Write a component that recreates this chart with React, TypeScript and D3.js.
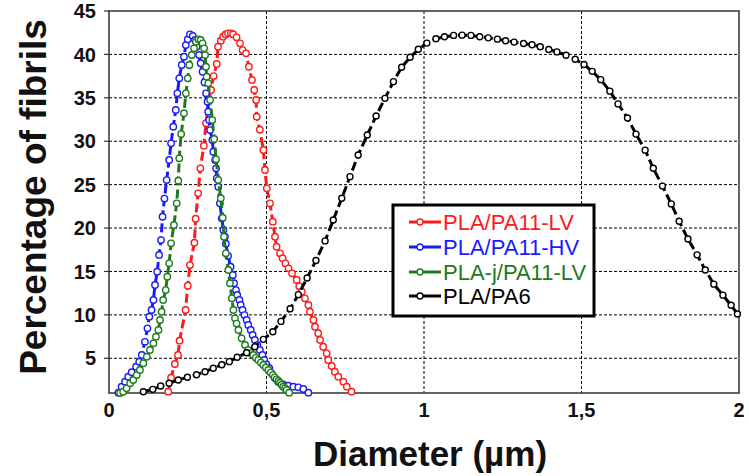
import React from "react";
import * as d3 from "d3";

const seriesNames = ["PLA/PA11-LV", "PLA/PA11-HV", "PLA-j/PA11-LV", "PLA/PA6"];
const seriesColors = ["#ff1a1a", "#1a1aff", "#1e7a1e", "#000000"];

const redData: [number, number][] = [
  [0.188, 1.15], [0.197, 2.76], [0.209, 4.34], [0.219, 5.38], [0.224, 7.03],
  [0.243, 10.56], [0.25, 13.36], [0.257, 15.74], [0.271, 18.31], [0.275, 21.08],
  [0.283, 24.0], [0.29, 26.88], [0.301, 29.49], [0.308, 32.07], [0.317, 34.75],
  [0.324, 35.9], [0.332, 37.51], [0.342, 38.9], [0.346, 40.89], [0.355, 41.58],
  [0.362, 42.04], [0.37, 42.3], [0.378, 42.43], [0.387, 42.43], [0.394, 42.32],
  [0.405, 41.97], [0.416, 41.28], [0.424, 40.5], [0.435, 40.13], [0.444, 38.58],
  [0.454, 37.05], [0.461, 35.9], [0.467, 34.75], [0.469, 32.83], [0.479, 31.33],
  [0.49, 29.0], [0.495, 26.69], [0.501, 24.58], [0.511, 22.85], [0.52, 20.73],
  [0.527, 19.0], [0.532, 17.85], [0.543, 17.09], [0.551, 16.52], [0.56, 15.94],
  [0.57, 15.36], [0.581, 14.79], [0.596, 14.02], [0.604, 13.3], [0.612, 12.67],
  [0.622, 11.91], [0.633, 11.14], [0.638, 10.37], [0.649, 9.41], [0.654, 8.64],
  [0.664, 7.88], [0.67, 7.11], [0.68, 6.33], [0.691, 5.57], [0.696, 4.8],
  [0.707, 4.11], [0.717, 3.45], [0.728, 2.88], [0.744, 2.3], [0.755, 1.73],
  [0.77, 1.15],
];

const blueData: [number, number][] = [
  [0.03, 1.04], [0.04, 1.73], [0.051, 2.3], [0.061, 2.88], [0.072, 3.4],
  [0.086, 4.03], [0.096, 4.61], [0.104, 5.38], [0.114, 6.9], [0.122, 8.45],
  [0.128, 9.79], [0.135, 10.56], [0.141, 11.71], [0.146, 13.44], [0.153, 14.98],
  [0.159, 16.9], [0.165, 18.62], [0.17, 21.3], [0.176, 23.4], [0.183, 25.53],
  [0.191, 27.84], [0.197, 29.76], [0.204, 31.67], [0.212, 33.6], [0.217, 35.52],
  [0.223, 37.25], [0.231, 38.78], [0.238, 39.74], [0.244, 41.08], [0.25, 41.74],
  [0.257, 42.31], [0.266, 42.12], [0.273, 41.66], [0.278, 40.89], [0.286, 39.93],
  [0.291, 38.98], [0.297, 38.0], [0.303, 36.8], [0.308, 35.52], [0.313, 34.55],
  [0.315, 33.4], [0.318, 32.44], [0.321, 31.29], [0.328, 30.14], [0.331, 28.79],
  [0.337, 27.84], [0.34, 26.88], [0.342, 25.73], [0.347, 24.76], [0.352, 22.85],
  [0.358, 21.12], [0.363, 19.78], [0.368, 19.0], [0.371, 18.2], [0.378, 16.8],
  [0.386, 15.55], [0.393, 14.59], [0.397, 13.64], [0.403, 12.86], [0.407, 12.29],
  [0.414, 11.71], [0.418, 11.14], [0.424, 10.56], [0.43, 9.98], [0.437, 9.41],
  [0.442, 8.83], [0.45, 8.26], [0.456, 7.68], [0.463, 7.11], [0.471, 6.53],
  [0.479, 5.95], [0.487, 5.38], [0.493, 4.8], [0.5, 4.3], [0.509, 3.85],
  [0.516, 3.27], [0.527, 2.69], [0.537, 2.3], [0.553, 2.0], [0.569, 1.84],
  [0.585, 1.73], [0.601, 1.65], [0.617, 1.46], [0.633, 1.04],
];

const greenData: [number, number][] = [
  [0.035, 1.0], [0.045, 1.15], [0.056, 1.54], [0.067, 2.12], [0.077, 2.5],
  [0.088, 3.07], [0.098, 3.65], [0.109, 4.42], [0.12, 5.18], [0.13, 5.95],
  [0.141, 6.72], [0.149, 7.49], [0.157, 8.26], [0.162, 9.41], [0.167, 10.37],
  [0.172, 11.71], [0.18, 12.86], [0.185, 14.4], [0.191, 15.94], [0.197, 18.24],
  [0.206, 20.35], [0.215, 22.85], [0.22, 25.45], [0.223, 28.03], [0.229, 30.83],
  [0.238, 33.22], [0.244, 35.52], [0.25, 37.25], [0.255, 38.78], [0.263, 39.93],
  [0.27, 40.7], [0.276, 41.46], [0.284, 41.74], [0.291, 41.66], [0.297, 41.28],
  [0.302, 40.7], [0.305, 39.93], [0.308, 38.58], [0.31, 37.43], [0.315, 36.67],
  [0.321, 34.75], [0.328, 32.44], [0.334, 30.26], [0.34, 27.92], [0.347, 25.53],
  [0.355, 23.43], [0.361, 21.2], [0.365, 19.0], [0.371, 17.09], [0.379, 15.17],
  [0.384, 13.64], [0.39, 11.91], [0.395, 10.56], [0.4, 9.6], [0.405, 9.0],
  [0.411, 8.26], [0.421, 7.3], [0.432, 6.53], [0.442, 5.95], [0.45, 5.6],
  [0.458, 5.38], [0.466, 5.05], [0.474, 4.8], [0.482, 4.5], [0.49, 4.23],
  [0.498, 3.95], [0.506, 3.65], [0.513, 3.35], [0.52, 3.07], [0.526, 2.8],
  [0.532, 2.58], [0.538, 2.38], [0.543, 2.19], [0.548, 1.95], [0.553, 1.73],
  [0.559, 1.55], [0.564, 1.35], [0.572, 1.04],
];

const blackData: [number, number][] = [
  [0.109, 1.15], [0.139, 1.42], [0.164, 1.8], [0.191, 2.12], [0.22, 2.5],
  [0.249, 2.81], [0.278, 3.11], [0.305, 3.45], [0.331, 3.85], [0.358, 4.26],
  [0.382, 4.61], [0.407, 5.11], [0.437, 5.64], [0.463, 6.33], [0.49, 7.18],
  [0.52, 8.06], [0.546, 9.25], [0.575, 10.7], [0.601, 12.33], [0.629, 14.25],
  [0.657, 16.26], [0.686, 18.52], [0.712, 20.93], [0.739, 23.43], [0.765, 25.92],
  [0.791, 28.41], [0.82, 30.72], [0.848, 32.91], [0.876, 34.94], [0.903, 36.86],
  [0.929, 38.52], [0.956, 39.67], [0.982, 40.59], [1.009, 41.3], [1.038, 41.8],
  [1.065, 42.03], [1.094, 42.19], [1.121, 42.22], [1.149, 42.19], [1.177, 42.03],
  [1.204, 41.91], [1.233, 41.76], [1.259, 41.57], [1.286, 41.42], [1.316, 41.26],
  [1.343, 41.11], [1.369, 40.88], [1.396, 40.57], [1.422, 40.29], [1.451, 39.91],
  [1.48, 39.44], [1.508, 38.83], [1.534, 38.05], [1.561, 37.09], [1.59, 35.77],
  [1.616, 34.3], [1.646, 32.68], [1.673, 30.82], [1.702, 28.97], [1.728, 26.88],
  [1.757, 24.83], [1.785, 22.78], [1.81, 20.78], [1.838, 18.73], [1.867, 16.91],
  [1.893, 15.17], [1.92, 13.54], [1.949, 12.27], [1.975, 11.11], [1.995, 10.1],
];

const allSeries = [redData, blueData, greenData, blackData];

const xTicks = [0, 0.5, 1, 1.5, 2];
const xTickLabels = ["0", "0,5", "1", "1,5", "2"];
const yTicks = [5, 10, 15, 20, 25, 30, 35, 40, 45];
const xGrid = [0.5, 1, 1.5];
const yGrid = [5, 10, 15, 20, 25, 30, 35, 40];

const W = 749;
const H = 476;
const left = 109;
const right = 739;
const top = 11;
const bottom = 393;

export default function App() {
  const x = d3.scaleLinear().domain([0, 2]).range([left, right]);
  const y = d3.scaleLinear().domain([1, 45]).range([bottom, top]);
  const line = d3
    .line<[number, number]>()
    .x((d) => x(d[0]))
    .y((d) => y(d[1]));
  const font = "'Liberation Sans', Arial, sans-serif";

  const legX = 393;
  const legY = 205;
  const legRows = [222, 247, 272, 296];

  return (
    <div style={{ position: "fixed", left: 0, top: 0 }}>
      <svg width={W} height={H} style={{ display: "block", background: "#fff" }}>
        <rect x={0} y={0} width={W} height={H} fill="#fff" />
        {yGrid.map((v) => (
          <line key={"gy" + v} x1={left} x2={right} y1={y(v)} y2={y(v)} stroke="#000" strokeWidth={1} strokeDasharray="3 2" />
        ))}
        {xGrid.map((v) => (
          <line key={"gx" + v} x1={x(v)} x2={x(v)} y1={top} y2={bottom} stroke="#000" strokeWidth={1} strokeDasharray="3 2" />
        ))}
        <rect x={left} y={top} width={right - left} height={bottom - top} fill="none" stroke="#333" strokeWidth={1.5} />
        {yTicks.map((v) => (
          <g key={"yt" + v}>
            <line x1={left - 5} x2={left} y1={y(v)} y2={y(v)} stroke="#333" strokeWidth={1.2} />
            <text x={96} y={y(v)} dy="0.36em" textAnchor="end" fontFamily={font} fontWeight="bold" fontSize={20} fill="#111">
              {v}
            </text>
          </g>
        ))}
        {xTicks.map((v, i) => (
          <text key={"xt" + v} x={x(v)} y={417} textAnchor="middle" fontFamily={font} fontWeight="bold" fontSize={20} fill="#111">
            {xTickLabels[i]}
          </text>
        ))}
        <text x={430} y={466} textAnchor="middle" fontFamily={font} fontWeight="bold" fontSize={35} fill="#111">
          Diameter (µm)
        </text>
        <text transform={`translate(46,${(top + bottom) / 2 - 5}) rotate(-90)`} textAnchor="middle" fontFamily={font} fontWeight="bold" fontSize={37} fill="#111">
          Percentage of fibrils
        </text>
        {allSeries.map((data, i) => (
          <g key={"s" + i}>
            <path d={line(data) || ""} fill="none" stroke={seriesColors[i]} strokeWidth={3} strokeDasharray="9 4" />
            {data.map((d, j) => (
              <circle key={j} cx={x(d[0])} cy={y(d[1])} r={i === 3 ? 3 : 3.2} fill="#fff" stroke={seriesColors[i]} strokeWidth={1.4} />
            ))}
          </g>
        ))}
        <rect x={legX} y={legY} width={201} height={111} fill="#fff" stroke="#000" strokeWidth={3} />
        {seriesNames.map((name, i) => (
          <g key={"l" + i}>
            <line x1={409} x2={441} y1={legRows[i]} y2={legRows[i]} stroke={seriesColors[i]} strokeWidth={3} />
            <circle cx={420} cy={legRows[i]} r={3} fill="#fff" stroke={seriesColors[i]} strokeWidth={1.3} />
            <text x={443} y={legRows[i]} dy="0.36em" fontFamily={font} fontSize={22} fill={seriesColors[i]}>
              {name}
            </text>
          </g>
        ))}
      </svg>
    </div>
  );
}
